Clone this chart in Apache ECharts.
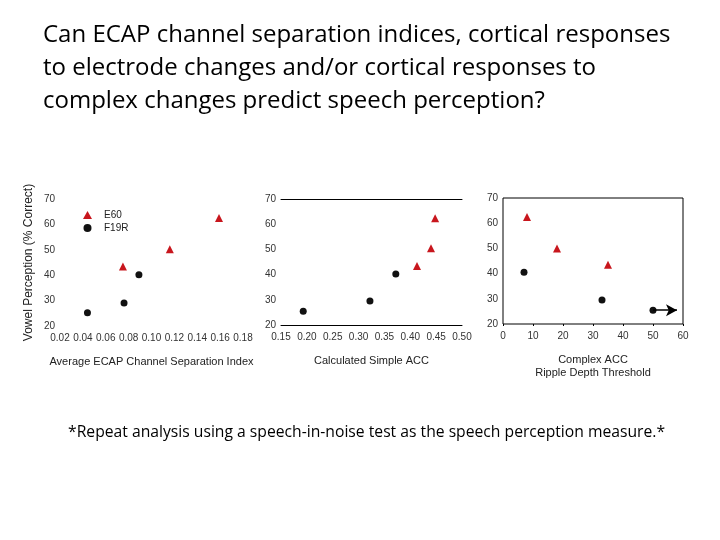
<!DOCTYPE html>
<html>
<head>
<meta charset="utf-8">
<script src="https://cdn.jsdelivr.net/npm/echarts@6/dist/echarts.min.js"></script>
<style>
  html, body { margin: 0; padding: 0; background: #fff; }
  #chart { width: 720px; height: 540px; }
</style>
</head>
<body>
<div id="chart"></div>
<script>
const titleLines = [
  'Can ECAP channel separation indices, cortical responses',
  'to electrode changes and/or cortical responses to',
  'complex changes predict speech perception?',
]
const footnote = '*Repeat analysis using a speech-in-noise test as the speech perception measure.*'

const seriesNames = ['E60', 'F19R']

// panel 1: ECAP channel separation index vs vowel perception
const ecapE60 = [[0.075, 43.4], [0.116, 50.2], [0.159, 62.5]]
const ecapF19R = [[0.044, 25.2], [0.076, 29.1], [0.089, 40.2]]

// panel 2: calculated simple ACC
const simpleE60 = [[0.413, 43.4], [0.44, 50.5], [0.448, 62.4]]
const simpleF19R = [[0.193, 25.5], [0.322, 29.5], [0.372, 40.2]]

// panel 3: complex ACC ripple depth threshold
const rippleE60 = [[8, 62.5], [18, 50], [35, 43.5]]
const rippleF19R = [[7, 40.5], [33, 29.5], [50, 25.5]]
const rippleArrow = [[50, 25.5], [58, 25.5]]

const xNames = [
  'Average ECAP Channel Separation Index',
  'Calculated Simple ACC',
  'Complex ACC\nRipple Depth Threshold',
]
const yName = 'Vowel Perception (% Correct)'

const RED = '#c8161d'
const BLACK = '#111'
const LABEL = '#333'
const FONT = 'Liberation Sans, Arial, sans-serif'
const TEXT_FONT = 'Open Sans, sans-serif'

const chart = echarts.init(document.getElementById('chart'))

function yAxis(gridIndex, extra) {
  return Object.assign({
    type: 'value',
    gridIndex,
    min: 20,
    max: 70,
    interval: 10,
    axisLine: { show: false },
    axisTick: { show: false },
    splitLine: { show: false },
    axisLabel: { color: LABEL, fontSize: 10, fontFamily: FONT, margin: 5 },
  }, extra || {})
}

function xAxis(gridIndex, min, max, interval, digits, extra) {
  return Object.assign({
    type: 'value',
    gridIndex,
    min,
    max,
    interval,
    name: xNames[gridIndex],
    nameLocation: 'middle',
    nameGap: 29,
    nameTextStyle: { color: '#222', fontSize: 11, fontFamily: FONT, lineHeight: 13 },
    axisLine: { show: false },
    axisTick: { show: false },
    splitLine: { show: false },
    axisLabel: {
      color: LABEL,
      fontSize: 10,
      fontFamily: FONT,
      margin: 7,
      formatter: (v) => v.toFixed(digits),
    },
  }, extra || {})
}

function scatter(name, data, idx, extra) {
  const isTri = name === 'E60'
  return Object.assign({
    name,
    type: 'scatter',
    xAxisIndex: idx,
    yAxisIndex: idx,
    data,
    symbol: isTri ? 'triangle' : 'circle',
    symbolSize: isTri ? 8 : 7,
    itemStyle: { color: isTri ? RED : BLACK, opacity: 1 },
    silent: true,
  }, extra || {})
}

chart.setOption({
  animation: false,
  backgroundColor: '#fff',
  title: [
    {
      text: titleLines.join('\n'),
      left: 43,
      top: 19,
      padding: 0,
      textStyle: {
        color: '#000',
        fontSize: 24,
        fontWeight: 'normal',
        fontFamily: TEXT_FONT,
        lineHeight: 33,
      },
    },
    {
      text: footnote,
      left: 68,
      top: 425,
      padding: 0,
      textStyle: {
        color: '#000',
        fontSize: 15.7,
        fontWeight: 'normal',
        fontFamily: TEXT_FONT,
      },
    },
  ],
  legend: {
    data: seriesNames,
    orient: 'vertical',
    left: 78,
    top: 204,
    itemWidth: 9,
    itemHeight: 8,
    itemGap: 1,
    selectedMode: false,
    textStyle: { color: '#222', fontSize: 10, fontFamily: FONT, padding: [0, 0, 0, 7], lineHeight: 12 },
  },
  grid: [
    { left: 60, top: 199, width: 183, height: 127 },
    { left: 281, top: 199, width: 181, height: 126 },
    { left: 503, top: 198, width: 180, height: 126, show: true, borderColor: '#000', borderWidth: 1 },
  ],
  xAxis: [
    xAxis(0, 0.02, 0.18, 0.02, 2),
    xAxis(1, 0.15, 0.5, 0.05, 2, { axisLine: { show: true, lineStyle: { color: '#000', width: 1 } } }),
    xAxis(2, 0, 60, 10, 0, { axisTick: { show: true, length: 2, lineStyle: { color: '#000' } } }),
    {
      type: 'value', gridIndex: 1, position: 'top', min: 0, max: 1,
      axisLine: { show: true, lineStyle: { color: '#000', width: 1 } },
      axisTick: { show: false }, axisLabel: { show: false }, splitLine: { show: false },
    },
  ],
  yAxis: [
    yAxis(0, {
      name: yName,
      nameLocation: 'middle',
      nameGap: 25,
      nameTextStyle: { color: '#222', fontSize: 12, fontFamily: FONT },
    }),
    yAxis(1),
    yAxis(2),
  ],
  series: [
    scatter('E60', ecapE60, 0),
    scatter('F19R', ecapF19R, 0),
    scatter('E60', simpleE60, 1),
    scatter('F19R', simpleF19R, 1),
    scatter('E60', rippleE60, 2),
    scatter('F19R', rippleF19R, 2, {
      markLine: {
        silent: true,
        symbol: ['none', 'arrow'],
        symbolSize: [9, 11],
        label: { show: false },
        lineStyle: { color: '#000', width: 1.5, type: 'solid' },
        data: [[{ coord: rippleArrow[0] }, { coord: rippleArrow[1] }]],
      },
    }),
  ],
})
</script>
</body>
</html>
